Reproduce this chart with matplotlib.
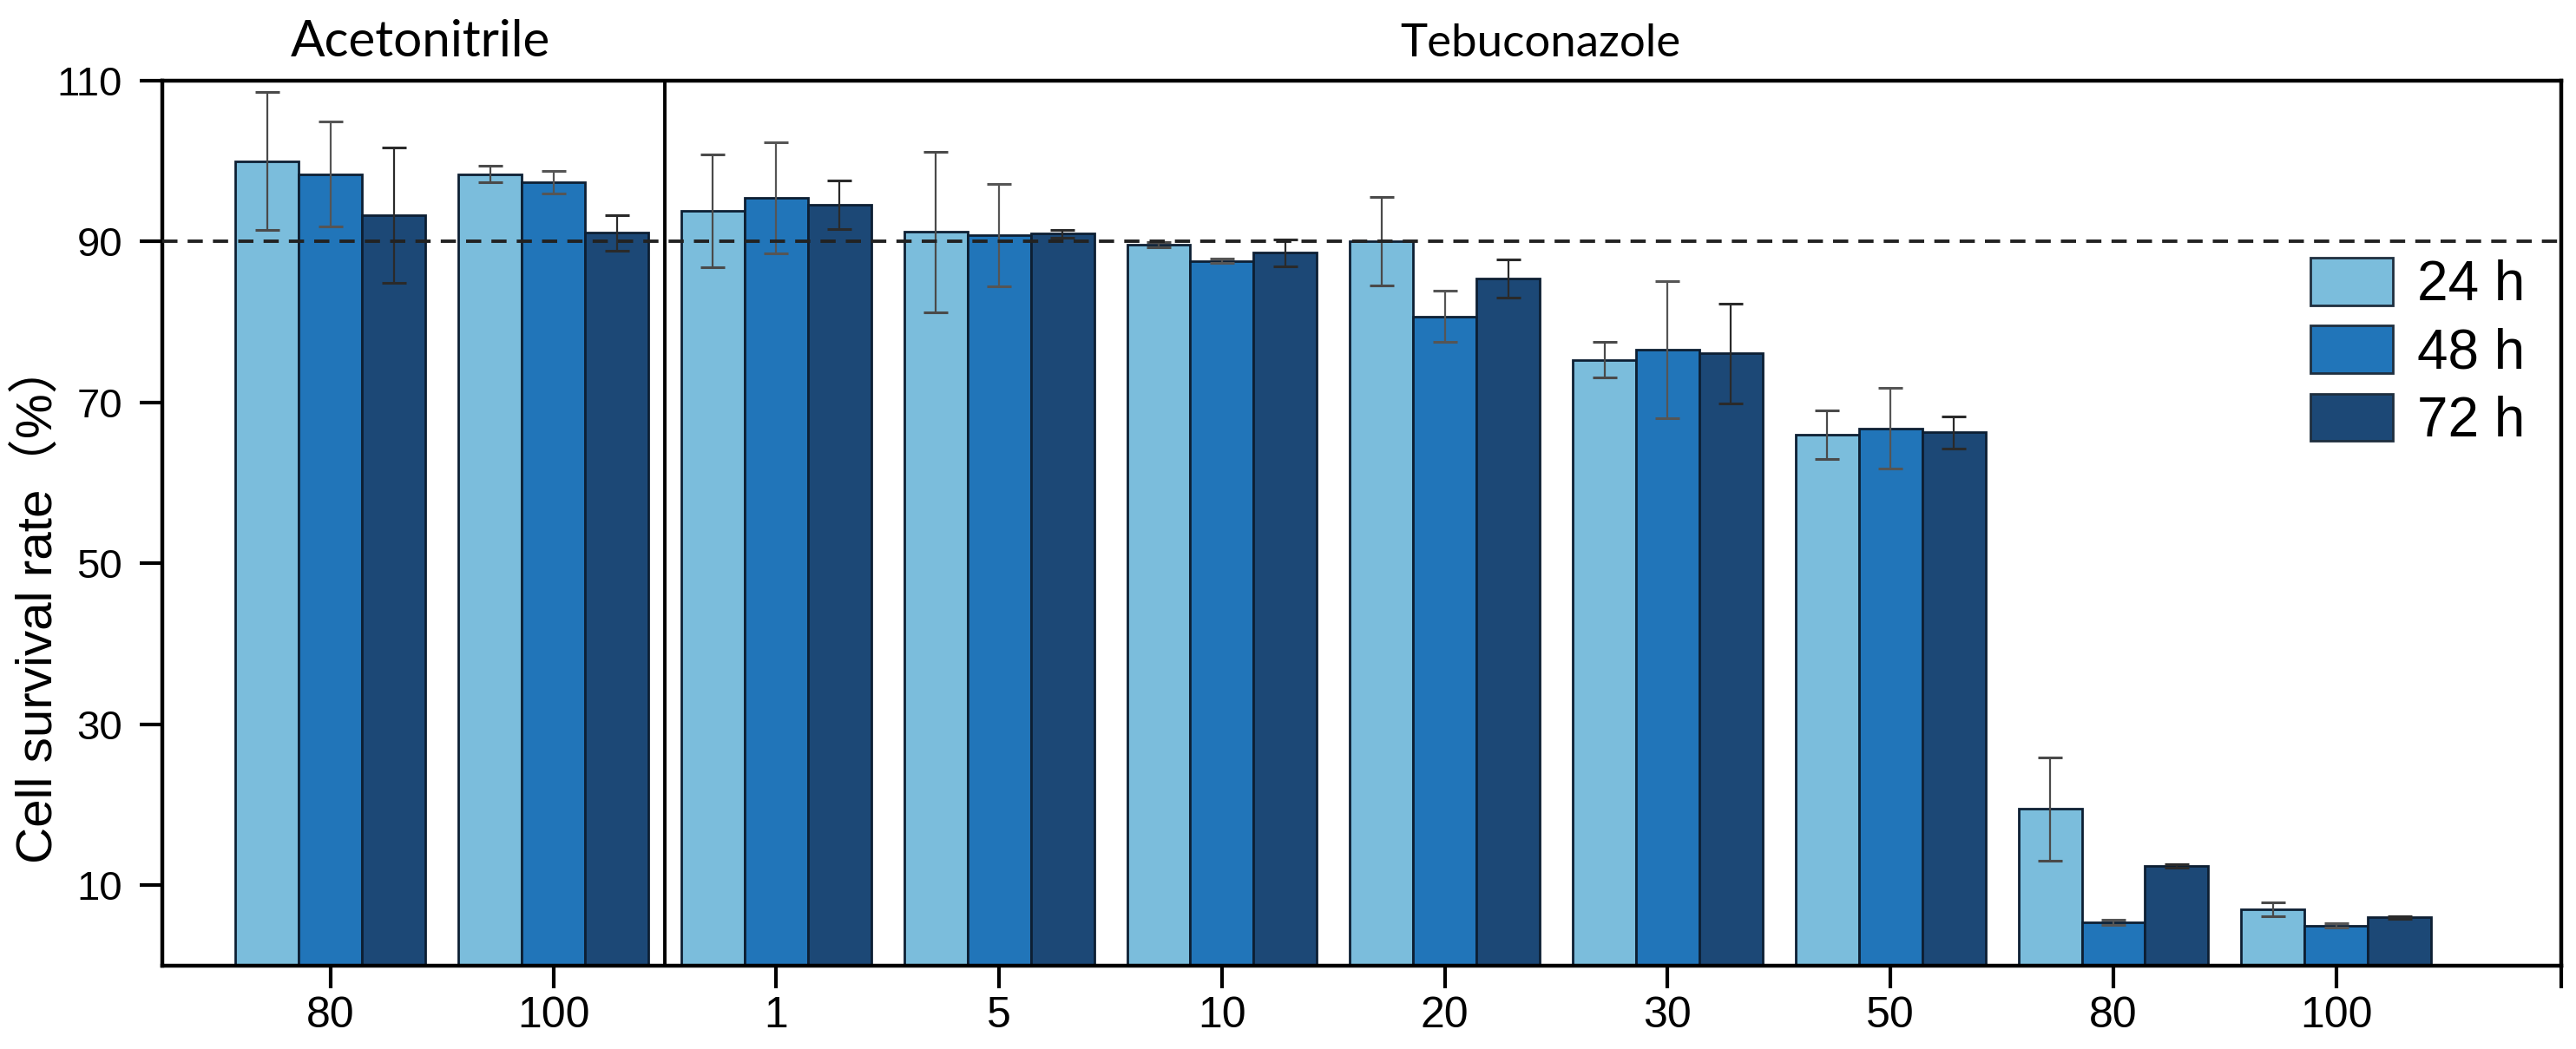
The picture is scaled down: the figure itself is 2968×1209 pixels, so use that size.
import matplotlib
matplotlib.use("Agg")
import matplotlib.pyplot as plt
from matplotlib.patches import Patch
import numpy as np

# ---- data ----
categories = ["80", "100", "1", "5", "10", "20", "30", "50", "80", "100"]
groups = ["Acetonitrile", "Tebuconazole"]
series = ["24 h", "48 h", "72 h"]
mean_24 = [100.0, 98.4, 93.8, 91.2, 89.6, 90.0, 75.3, 66.0, 19.5, 7.0]
mean_48 = [98.4, 97.4, 95.4, 90.8, 87.6, 80.7, 76.6, 66.8, 5.4, 5.0]
mean_72 = [93.3, 91.1, 94.6, 91.0, 88.6, 85.4, 76.1, 66.3, 12.4, 6.0]
sd_24 = [8.6, 1.0, 7.0, 10.0, 0.3, 5.5, 2.2, 3.0, 6.4, 0.9]
sd_48 = [6.5, 1.4, 6.9, 6.4, 0.3, 3.2, 8.5, 5.0, 0.3, 0.3]
sd_72 = [8.4, 2.2, 3.0, 0.5, 1.7, 2.4, 6.2, 2.0, 0.2, 0.2]
yticks = [10, 30, 50, 70, 90, 110]
threshold = 90

colors = ["#7BBDDC", "#2175B9", "#1C4876"]
font = "Liberation Sans"

fig = plt.figure(figsize=(14.84, 6.045), dpi=200)
ax = fig.add_axes([0.0630, 0.0794, 0.9313, 0.8437])

x = np.arange(len(categories))
w = 0.284
means = [mean_24, mean_48, mean_72]
sds = [sd_24, sd_48, sd_72]
ecols = ["#4a4a4a", "#555555", "#2a2a2a"]
for i, (m, s, c) in enumerate(zip(means, sds, colors)):
    ax.bar(x + (i - 1) * w, m, width=w, color=c, edgecolor="#0d1f33",
           linewidth=1.0, zorder=2, label=series[i])
    ax.errorbar(x + (i - 1) * w, m, yerr=s, fmt="none", ecolor=ecols[i],
                elinewidth=0.8, capsize=5, capthick=1.1, zorder=3)

ax.axhline(threshold, color="#222222", lw=1.4, ls=(0, (4.5, 3)), zorder=4)
ax.axvline(1.5, color="black", lw=1.4, zorder=4)

ax.set_xlim(-0.755, 10.01)
ax.set_ylim(0, 110)
ax.set_yticks(yticks)
ax.set_xticks(x)
ax.set_xticklabels(categories)
ax.set_xticks([10.01], minor=True)
for sp in ax.spines.values():
    sp.set_linewidth(1.6)
ax.tick_params(axis="both", which="both", direction="out", length=9.5, width=1.5)
ax.tick_params(axis="y", labelsize=17, pad=7)
ax.tick_params(axis="x", labelsize=18, pad=3)
for lab in ax.get_xticklabels() + ax.get_yticklabels():
    lab.set_family(font)

ax.set_ylabel("Cell survival rate（%）", fontsize=21,
              family=["Liberation Sans", "Noto Sans CJK SC"])
ax.yaxis.set_label_coords(72 / 2968, 0.425, transform=fig.transFigure)

ax.text(0.405, 1.027, groups[0], transform=ax.get_xaxis_transform(),
        ha="center", va="baseline", fontsize=21, family="Lato")
ax.text(5.43, 1.027, groups[1], transform=ax.get_xaxis_transform(),
        ha="center", va="baseline", fontsize=19, family="Lato")

handles = [Patch(facecolor=c, edgecolor="#1f2f3f", linewidth=1.0) for c in colors]
leg = ax.legend(handles, series, loc="upper right", bbox_to_anchor=(0.985, 0.80),
                frameon=False, handlelength=1.49, handleheight=0.94,
                handletextpad=0.44, labelspacing=0.25, borderpad=0,
                borderaxespad=0, prop={"family": font, "size": 23})

fig.savefig("out.png", dpi=200)
